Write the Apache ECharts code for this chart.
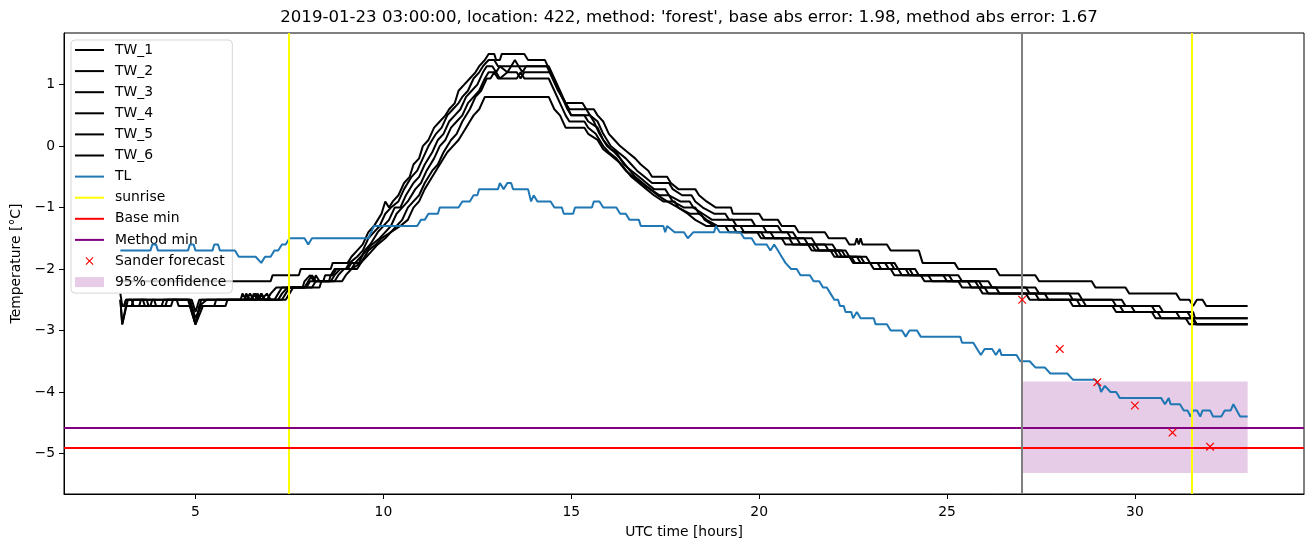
<!DOCTYPE html>
<html><head><meta charset="utf-8">
<script src="https://cdn.jsdelivr.net/npm/echarts@6/dist/echarts.min.js"></script>
<style>html,body{margin:0;padding:0;background:#fff}#c{width:1313px;height:547px}</style>
</head><body><div id="c"></div>
<script>
const titleText = "2019-01-23 03:00:00, location: 422, method: 'forest', base abs error: 1.98, method abs error: 1.67";
const xTicks = [5, 10, 15, 20, 25, 30];
const yTicks = [-5, -4, -3, -2, -1, 0, 1];

const tw1 = [[3.0,-2.2],[7.0,-2.2],[7.05,-2.1],[7.75,-2.1],[7.8,-2.0],[8.6,-2.0],[8.65,-1.9],[9.05,-1.9],[9.15,-1.8],[9.3,-1.7],[9.45,-1.6],[9.6,-1.4],[9.75,-1.3],[9.85,-1.2],[9.95,-1.1],[10.05,-0.9],[10.15,-1.0],[10.25,-0.9],[10.4,-0.8],[10.55,-0.6],[10.7,-0.5],[10.8,-0.3],[10.95,-0.2],[11.05,0.0],[11.2,0.1],[11.35,0.3],[11.5,0.4],[11.65,0.5],[11.75,0.6],[11.9,0.7],[12.0,0.9],[12.15,1.0],[12.3,1.1],[12.45,1.2],[12.55,1.3],[12.7,1.4],[12.8,1.5],[12.95,1.5],[13.0,1.4],[13.1,1.4],[13.15,1.5],[13.75,1.5],[13.85,1.4],[14.3,1.4],[14.45,1.2],[14.6,1.0],[14.75,0.8],[14.85,0.7],[15.3,0.7],[15.4,0.6],[15.6,0.6],[15.7,0.5],[15.85,0.4],[16.0,0.2],[16.15,0.1],[16.3,0.0],[16.5,-0.1],[16.7,-0.2],[16.85,-0.3],[17.05,-0.4],[17.15,-0.5],[17.55,-0.5],[17.65,-0.6],[17.85,-0.7],[18.3,-0.7],[18.4,-0.8],[18.6,-0.9],[18.85,-1.0],[19.25,-1.0],[19.3,-1.1],[20.0,-1.1],[20.1,-1.2],[20.5,-1.2],[20.6,-1.3],[20.95,-1.3],[21.05,-1.4],[21.75,-1.4],[21.85,-1.5],[22.3,-1.5],[22.4,-1.6],[22.55,-1.6],[22.6,-1.5],[22.65,-1.6],[22.7,-1.5],[22.75,-1.6],[23.4,-1.6],[23.5,-1.7],[24.25,-1.7],[24.35,-1.9],[25.2,-1.9],[25.3,-2.0],[26.3,-2.0],[26.4,-2.1],[27.35,-2.1],[27.45,-2.2],[28.85,-2.2],[28.95,-2.3],[29.75,-2.3],[29.85,-2.4],[31.1,-2.4],[31.2,-2.5],[31.45,-2.5],[31.55,-2.6],[31.65,-2.5],[31.8,-2.5],[31.9,-2.6],[33.0,-2.6]];

const tw2 = [[3.0,-2.4],[3.05,-2.6],[3.3,-2.6],[3.35,-2.5],[4.8,-2.5],[5.0,-2.9],[5.15,-2.5],[6.2,-2.5],[6.25,-2.4],[6.35,-2.5],[6.45,-2.4],[6.55,-2.5],[6.9,-2.5],[7.0,-2.4],[7.15,-2.3],[7.85,-2.3],[7.9,-2.2],[8.05,-2.1],[8.15,-2.2],[8.55,-2.2],[8.6,-2.1],[8.7,-2.0],[9.0,-2.0],[9.1,-1.9],[9.3,-1.8],[9.45,-1.7],[9.6,-1.5],[9.75,-1.4],[9.9,-1.3],[10.05,-1.1],[10.2,-1.0],[10.4,-0.9],[10.55,-0.7],[10.75,-0.5],[10.9,-0.4],[11.05,-0.2],[11.2,0.0],[11.4,0.2],[11.55,0.3],[11.7,0.5],[11.85,0.6],[12.0,0.7],[12.1,0.8],[12.25,0.9],[12.4,1.1],[12.55,1.2],[12.65,1.3],[12.8,1.4],[12.95,1.4],[13.05,1.3],[13.4,1.3],[13.5,1.4],[13.6,1.3],[14.35,1.3],[14.5,1.1],[14.65,0.9],[14.85,0.7],[14.95,0.6],[15.4,0.6],[15.5,0.5],[15.7,0.4],[15.85,0.2],[16.05,0.0],[16.25,-0.1],[16.45,-0.2],[16.6,-0.3],[16.75,-0.4],[16.95,-0.5],[17.15,-0.6],[17.6,-0.6],[17.7,-0.7],[17.95,-0.8],[18.2,-0.8],[18.3,-0.9],[18.5,-1.0],[18.8,-1.1],[19.1,-1.1],[19.2,-1.2],[19.8,-1.2],[19.9,-1.3],[20.5,-1.3],[20.6,-1.4],[20.9,-1.4],[21.0,-1.5],[21.2,-1.5],[21.3,-1.6],[21.75,-1.6],[21.85,-1.7],[22.0,-1.7],[22.1,-1.8],[22.45,-1.8],[22.55,-1.9],[23.35,-1.9],[23.45,-2.0],[23.9,-2.0],[24.0,-2.1],[25.05,-2.1],[25.15,-2.2],[25.85,-2.2],[25.95,-2.3],[27.1,-2.3],[27.2,-2.4],[28.25,-2.4],[28.35,-2.5],[29.4,-2.5],[29.5,-2.6],[30.45,-2.6],[30.55,-2.7],[31.55,-2.7],[31.6,-2.8],[33.0,-2.8]];

const tw3 = [[3.0,-2.5],[3.05,-2.9],[3.15,-2.6],[3.5,-2.6],[3.55,-2.5],[3.9,-2.5],[3.95,-2.6],[4.35,-2.6],[4.4,-2.5],[4.85,-2.5],[5.0,-2.9],[5.1,-2.6],[5.3,-2.5],[6.3,-2.5],[6.35,-2.4],[6.45,-2.5],[6.6,-2.4],[6.7,-2.5],[7.1,-2.5],[7.2,-2.4],[7.3,-2.3],[7.9,-2.3],[8.0,-2.2],[8.1,-2.1],[8.2,-2.2],[8.4,-2.2],[8.45,-2.1],[8.65,-2.1],[8.75,-2.0],[9.05,-2.0],[9.15,-1.9],[9.35,-1.9],[9.5,-1.7],[9.65,-1.6],[9.85,-1.4],[10.0,-1.3],[10.15,-1.2],[10.3,-1.0],[10.45,-1.0],[10.6,-0.8],[10.8,-0.6],[10.95,-0.5],[11.1,-0.3],[11.3,-0.1],[11.45,0.1],[11.6,0.2],[11.75,0.4],[11.9,0.5],[12.05,0.6],[12.2,0.8],[12.35,0.9],[12.5,1.0],[12.65,1.2],[12.75,1.3],[12.9,1.3],[13.0,1.2],[13.1,1.3],[13.3,1.2],[13.4,1.3],[13.6,1.3],[13.7,1.2],[13.8,1.3],[14.4,1.3],[14.55,1.1],[14.7,0.9],[14.85,0.7],[15.0,0.5],[15.35,0.5],[15.45,0.4],[15.7,0.3],[15.85,0.1],[16.05,-0.05],[16.2,-0.1],[16.4,-0.3],[16.6,-0.4],[16.8,-0.5],[17.0,-0.6],[17.2,-0.7],[17.5,-0.7],[17.6,-0.8],[17.9,-0.9],[18.15,-0.9],[18.25,-1.0],[18.5,-1.1],[18.75,-1.2],[19.3,-1.2],[19.4,-1.3],[20.1,-1.3],[20.2,-1.4],[20.75,-1.4],[20.85,-1.5],[21.4,-1.5],[21.5,-1.6],[21.95,-1.6],[22.05,-1.7],[22.3,-1.7],[22.4,-1.8],[22.7,-1.8],[22.8,-1.9],[23.6,-1.9],[23.7,-2.0],[24.15,-2.0],[24.25,-2.1],[25.3,-2.1],[25.4,-2.2],[26.1,-2.2],[26.2,-2.3],[27.35,-2.3],[27.45,-2.4],[28.5,-2.4],[28.6,-2.5],[29.65,-2.5],[29.75,-2.6],[30.65,-2.6],[30.75,-2.7],[31.4,-2.7],[31.5,-2.8],[33.0,-2.8]];

const tw4 = [[3.0,-2.6],[3.1,-2.6],[3.15,-2.5],[3.6,-2.5],[3.65,-2.6],[4.1,-2.6],[4.15,-2.5],[4.85,-2.5],[5.0,-2.8],[5.15,-2.6],[5.5,-2.6],[5.55,-2.5],[6.5,-2.5],[6.55,-2.4],[6.65,-2.5],[6.75,-2.4],[6.85,-2.5],[7.2,-2.5],[7.3,-2.4],[7.45,-2.3],[7.95,-2.3],[8.05,-2.2],[8.15,-2.2],[8.2,-2.1],[8.3,-2.2],[8.6,-2.2],[8.7,-2.1],[8.85,-2.0],[9.15,-2.0],[9.25,-1.9],[9.4,-1.8],[9.55,-1.7],[9.7,-1.6],[9.9,-1.5],[10.05,-1.4],[10.2,-1.3],[10.35,-1.1],[10.5,-1.0],[10.65,-0.9],[10.85,-0.7],[11.0,-0.6],[11.15,-0.4],[11.35,-0.2],[11.5,0.0],[11.65,0.1],[11.8,0.3],[11.95,0.4],[12.1,0.5],[12.25,0.7],[12.4,0.8],[12.55,0.9],[12.7,1.1],[12.8,1.2],[13.0,1.2],[13.1,1.1],[13.3,1.2],[13.55,1.2],[13.65,1.1],[13.75,1.2],[14.45,1.2],[14.6,1.0],[14.75,0.8],[14.9,0.6],[15.0,0.5],[15.5,0.5],[15.6,0.4],[15.75,0.2],[15.95,0.0],[16.15,-0.1],[16.3,-0.2],[16.5,-0.35],[16.7,-0.5],[16.9,-0.6],[17.1,-0.7],[17.35,-0.8],[17.6,-0.8],[17.7,-0.9],[18.0,-1.0],[18.3,-1.0],[18.4,-1.1],[18.6,-1.2],[18.9,-1.3],[19.5,-1.3],[19.6,-1.4],[20.3,-1.4],[20.4,-1.5],[21.0,-1.5],[21.1,-1.6],[21.5,-1.6],[21.6,-1.7],[22.1,-1.7],[22.2,-1.8],[22.6,-1.8],[22.7,-1.9],[22.95,-1.9],[23.05,-2.0],[23.7,-2.0],[23.8,-2.1],[24.3,-2.1],[24.4,-2.2],[25.55,-2.2],[25.65,-2.3],[25.85,-2.3],[25.95,-2.4],[27.1,-2.4],[27.2,-2.5],[28.25,-2.5],[28.35,-2.6],[29.4,-2.6],[29.5,-2.7],[30.45,-2.7],[30.55,-2.8],[31.55,-2.8],[31.6,-2.9],[33.0,-2.9]];

const tw5 = [[3.0,-2.5],[3.05,-2.9],[3.2,-2.5],[3.3,-2.5],[3.35,-2.6],[3.8,-2.6],[3.85,-2.5],[4.5,-2.5],[4.55,-2.6],[4.85,-2.6],[5.0,-2.9],[5.2,-2.6],[5.8,-2.6],[5.85,-2.5],[6.6,-2.5],[6.65,-2.4],[6.75,-2.5],[6.9,-2.4],[7.0,-2.5],[7.4,-2.5],[7.5,-2.4],[7.6,-2.3],[8.1,-2.3],[8.2,-2.2],[8.7,-2.2],[8.8,-2.1],[8.95,-2.0],[9.3,-2.0],[9.4,-1.9],[9.55,-1.8],[9.7,-1.7],[9.85,-1.6],[10.05,-1.5],[10.2,-1.4],[10.35,-1.3],[10.5,-1.2],[10.65,-1.0],[10.8,-0.9],[10.95,-0.8],[11.1,-0.6],[11.3,-0.4],[11.45,-0.3],[11.6,-0.1],[11.8,0.1],[11.95,0.2],[12.1,0.4],[12.3,0.6],[12.45,0.8],[12.6,0.9],[12.75,1.1],[12.85,1.1],[12.95,1.2],[13.05,1.1],[13.55,1.1],[13.65,1.2],[13.75,1.1],[14.4,1.1],[14.55,0.9],[14.7,0.7],[14.85,0.5],[14.95,0.4],[15.35,0.4],[15.45,0.3],[15.65,0.2],[15.85,0.0],[16.0,-0.1],[16.2,-0.2],[16.4,-0.35],[16.6,-0.5],[16.8,-0.6],[17.0,-0.7],[17.2,-0.8],[17.45,-0.9],[17.75,-0.9],[17.85,-1.0],[18.15,-1.1],[18.45,-1.1],[18.55,-1.2],[18.8,-1.3],[19.1,-1.3],[19.2,-1.4],[19.95,-1.4],[20.05,-1.5],[20.6,-1.5],[20.7,-1.6],[21.3,-1.6],[21.4,-1.7],[21.9,-1.7],[22.0,-1.8],[22.4,-1.8],[22.5,-1.9],[23.15,-1.9],[23.25,-2.0],[23.5,-2.0],[23.6,-2.1],[24.5,-2.1],[24.6,-2.2],[25.3,-2.2],[25.4,-2.3],[26.0,-2.3],[26.1,-2.4],[27.35,-2.4],[27.45,-2.5],[28.45,-2.5],[28.55,-2.6],[29.6,-2.6],[29.7,-2.7],[30.6,-2.7],[30.7,-2.8],[31.35,-2.8],[31.45,-2.9],[33.0,-2.9]];

const tw6 = [[3.0,-2.6],[3.1,-2.6],[3.15,-2.5],[3.7,-2.5],[3.75,-2.6],[4.2,-2.6],[4.25,-2.5],[4.9,-2.5],[5.0,-2.7],[5.1,-2.5],[6.7,-2.5],[6.75,-2.4],[6.85,-2.5],[7.3,-2.5],[7.4,-2.4],[7.5,-2.3],[8.3,-2.3],[8.35,-2.2],[8.9,-2.2],[9.0,-2.1],[9.15,-2.0],[9.4,-1.9],[9.6,-1.7],[9.8,-1.6],[9.95,-1.5],[10.2,-1.4],[10.45,-1.3],[10.65,-1.2],[10.8,-1.0],[10.95,-0.9],[11.1,-0.7],[11.3,-0.5],[11.5,-0.3],[11.7,-0.1],[11.85,0.0],[12.0,0.1],[12.2,0.3],[12.3,0.4],[12.4,0.5],[12.55,0.6],[12.7,0.8],[14.4,0.8],[14.55,0.6],[14.7,0.5],[14.85,0.3],[15.35,0.3],[15.45,0.2],[15.7,0.1],[15.85,-0.05],[16.05,-0.15],[16.25,-0.25],[16.45,-0.4],[16.65,-0.5],[16.85,-0.6],[17.1,-0.7],[17.3,-0.8],[17.55,-0.9],[17.85,-1.0],[18.1,-1.1],[18.3,-1.2],[18.6,-1.3],[19.3,-1.3],[19.4,-1.4],[20.05,-1.4],[20.15,-1.5],[20.8,-1.5],[20.9,-1.6],[21.4,-1.6],[21.5,-1.7],[22.2,-1.7],[22.3,-1.8],[22.85,-1.8],[22.95,-1.9],[23.5,-1.9],[23.6,-2.0],[24.0,-2.0],[24.1,-2.1],[24.9,-2.1],[25.0,-2.2],[25.75,-2.2],[25.85,-2.3],[26.3,-2.3],[26.4,-2.4],[27.6,-2.4],[27.7,-2.5],[28.6,-2.5],[28.7,-2.6],[29.9,-2.6],[30.0,-2.7],[31.1,-2.7],[31.2,-2.8],[31.55,-2.8],[31.65,-2.9],[33.0,-2.9]];

const tl = [[3.0,-1.7],[3.8,-1.7],[3.85,-1.6],[3.95,-1.6],[4.0,-1.7],[4.8,-1.7],[4.85,-1.6],[4.95,-1.6],[5.0,-1.7],[5.45,-1.7],[5.5,-1.6],[5.6,-1.6],[5.65,-1.7],[6.05,-1.7],[6.15,-1.8],[6.6,-1.8],[6.75,-1.9],[6.85,-1.8],[7.0,-1.8],[7.1,-1.7],[7.2,-1.7],[7.3,-1.6],[7.4,-1.6],[7.5,-1.5],[7.9,-1.5],[8.0,-1.6],[8.1,-1.5],[9.6,-1.5],[9.75,-1.3],[10.9,-1.3],[11.0,-1.2],[11.1,-1.2],[11.2,-1.1],[11.45,-1.1],[11.5,-1.0],[12.0,-1.0],[12.1,-0.9],[12.3,-0.9],[12.4,-0.8],[12.5,-0.8],[12.55,-0.7],[13.05,-0.7],[13.1,-0.6],[13.2,-0.7],[13.3,-0.6],[13.4,-0.6],[13.45,-0.7],[13.85,-0.7],[13.93,-0.9],[14.0,-0.8],[14.1,-0.9],[14.45,-0.9],[14.55,-1.0],[14.75,-1.0],[14.8,-1.1],[15.05,-1.1],[15.1,-1.0],[15.55,-1.0],[15.6,-0.9],[15.75,-0.9],[15.85,-1.0],[16.2,-1.0],[16.3,-1.1],[16.45,-1.1],[16.55,-1.2],[16.8,-1.2],[16.85,-1.3],[17.45,-1.3],[17.5,-1.4],[17.55,-1.3],[17.6,-1.3],[17.75,-1.4],[18.0,-1.4],[18.1,-1.5],[18.25,-1.4],[18.8,-1.4],[18.85,-1.3],[18.95,-1.4],[19.5,-1.4],[19.6,-1.5],[19.8,-1.5],[19.9,-1.6],[20.2,-1.6],[20.3,-1.7],[20.4,-1.6],[20.5,-1.7],[20.6,-1.8],[20.7,-1.9],[20.85,-2.0],[21.0,-2.0],[21.1,-2.1],[21.35,-2.1],[21.45,-2.2],[21.6,-2.2],[21.7,-2.3],[21.8,-2.3],[21.9,-2.4],[22.0,-2.5],[22.1,-2.5],[22.15,-2.6],[22.25,-2.6],[22.3,-2.7],[22.45,-2.7],[22.5,-2.8],[22.6,-2.7],[22.7,-2.8],[23.05,-2.8],[23.1,-2.9],[23.4,-2.9],[23.5,-3.0],[23.8,-3.0],[23.9,-3.1],[24.0,-3.0],[24.2,-3.0],[24.3,-3.1],[25.35,-3.1],[25.4,-3.2],[25.7,-3.2],[25.8,-3.3],[25.9,-3.4],[26.0,-3.3],[26.2,-3.3],[26.3,-3.4],[26.4,-3.3],[26.45,-3.4],[26.85,-3.4],[26.95,-3.5],[27.2,-3.5],[27.35,-3.6],[27.6,-3.6],[27.75,-3.7],[28.2,-3.7],[28.35,-3.8],[28.95,-3.8],[29.05,-3.9],[29.1,-4.0],[29.2,-3.9],[29.35,-4.0],[29.5,-4.0],[29.6,-4.1],[30.7,-4.1],[30.8,-4.2],[30.9,-4.1],[30.95,-4.2],[31.2,-4.2],[31.3,-4.3],[31.4,-4.3],[31.48,-4.4],[31.55,-4.3],[31.65,-4.3],[31.74,-4.4],[31.8,-4.3],[32.0,-4.3],[32.08,-4.4],[32.3,-4.4],[32.39,-4.3],[32.55,-4.3],[32.62,-4.2],[32.8,-4.4],[33.0,-4.4]];

const sunrise = [7.48, 31.5];
const nowTime = [27];
const baseMin = [-4.9];
const methodMin = [-4.58];
const sanderX = [27, 28, 29, 30, 31, 32];
const sanderY = [-2.5, -3.3, -3.84, -4.22, -4.66, -4.89];
const confX = [27, 33];
const confY = [-5.32, -3.83];

const FONT = 'DejaVu Sans';
const fmt = v => v < 0 ? '\u2212' + Math.abs(v) : String(v);
const xPath = 'path://M0,1L1,0L5,4L9,0L10,1L6,5L10,9L9,10L5,6L1,10L0,9L4,5Z';
const xLegendPath = 'path://M0,0M29,14M10.5,3.8L11.3,3L14.5,6.2L17.7,3L18.5,3.8L15.3,7L18.5,10.2L17.7,11L14.5,7.8L11.3,11L10.5,10.2L13.7,7Z';
const lineIcon = 'path://M0,0M29,14M0,6L29,6L29,8L0,8Z';
const rectIcon = 'path://M0,0M29,14M0,2L29,2L29,12L0,12Z';

const twAll = [tw1, tw2, tw3, tw4, tw5, tw6];
const series = [];
twAll.forEach((d, i) => series.push({
  name: 'TW_' + (i + 1), type: 'line', data: d, symbol: 'none', z: 3,
  lineStyle: {color: '#000', width: 2}, itemStyle: {color: '#000'}
}));
series.push({name: 'TL', type: 'line', data: tl, symbol: 'none', z: 4,
  lineStyle: {color: '#1f77b4', width: 2}, itemStyle: {color: '#1f77b4'}});
const ml = (color, list) => ({silent: true, symbol: ['none', 'none'], label: {show: false},
  emphasis: {disabled: true}, lineStyle: {color: color, width: 2, type: 'solid'}, data: list});
series.push({name: 'sunrise', type: 'line', data: [], symbol: 'none', z: 5,
  lineStyle: {color: '#ffff00', width: 2}, itemStyle: {color: '#ffff00'},
  markLine: ml('#ffff00', sunrise.map(v => ({xAxis: v})))});
series.push({name: 'Base min', type: 'line', data: [], symbol: 'none', z: 5,
  lineStyle: {color: '#ff0000', width: 2}, itemStyle: {color: '#ff0000'},
  markLine: ml('#ff0000', baseMin.map(v => ({yAxis: v})))});
series.push({name: 'Method min', type: 'line', data: [], symbol: 'none', z: 5,
  lineStyle: {color: '#800080', width: 2}, itemStyle: {color: '#800080'},
  markLine: ml('#800080', methodMin.map(v => ({yAxis: v})))});
series.push({name: 'now', type: 'line', data: [], symbol: 'none', z: 2,
  lineStyle: {color: '#808080', width: 2}, itemStyle: {color: '#808080'},
  markLine: ml('#808080', nowTime.map(v => ({xAxis: v})))});
series.push({name: 'Sander forecast', type: 'scatter', symbol: xPath, symbolSize: 8.5, z: 6,
  data: sanderX.map((x, i) => [x, sanderY[i]]), itemStyle: {color: '#ff0000', opacity: 1}});
series.push({name: '95% confidence', type: 'line', data: [], symbol: 'none', z: 1,
  color: 'rgba(128,0,128,0.2)',
  lineStyle: {color: 'rgba(128,0,128,0.2)'}, itemStyle: {color: 'rgba(128,0,128,0.2)'},
  markArea: {silent: true, itemStyle: {color: 'rgba(128,0,128,0.2)'}, label: {show: false},
    data: [[{coord: [confX[0], confY[0]]}, {coord: [confX[1], confY[1]]}]]}});

const lineNames = ['TW_1', 'TW_2', 'TW_3', 'TW_4', 'TW_5', 'TW_6', 'TL', 'sunrise', 'Base min', 'Method min'];
const chart = echarts.init(document.getElementById('c'), null, {renderer: 'canvas'});
chart.setOption({
  animation: false,
  backgroundColor: '#fff',
  textStyle: {fontFamily: FONT},
  title: {text: titleText, left: 684, top: 4, textAlign: 'center',
    textStyle: {fontFamily: FONT, fontSize: 16.6, fontWeight: 'normal', color: '#000'}},
  legend: {
    left: 71, top: 40, orient: 'vertical', padding: [3, 6, 4, 4],
    itemWidth: 29, itemHeight: 14, itemGap: 7.1,
    backgroundColor: 'rgba(255,255,255,0.8)', borderColor: 'rgba(204,204,204,0.8)',
    borderWidth: 1, borderRadius: 4,
    textStyle: {fontFamily: FONT, fontSize: 13.9, color: '#000', lineHeight: 14, padding: [0, 0, 0, 6]},
    data: lineNames.map(n => ({name: n, icon: lineIcon})).concat([
      {name: 'Sander forecast', icon: xLegendPath},
      {name: '95% confidence', icon: rectIcon}])
  },
  grid: {left: 64, top: 33, width: 1240, height: 461, show: true, borderColor: '#000', borderWidth: 1,
    backgroundColor: 'transparent'},
  xAxis: {
    type: 'value', min: 1.5, max: 34.5,
    name: 'UTC time [hours]', nameLocation: 'middle', nameGap: 31,
    nameTextStyle: {fontFamily: FONT, fontSize: 13.9, color: '#000'},
    axisLine: {show: true, onZero: false, lineStyle: {color: '#000', width: 1}},
    axisTick: {show: true, length: 5, customValues: xTicks, lineStyle: {color: '#000', width: 1}},
    axisLabel: {customValues: xTicks, margin: 11, fontFamily: FONT, fontSize: 13.9, color: '#000', formatter: fmt},
    splitLine: {show: false}
  },
  yAxis: {
    type: 'value', min: -5.66, max: 1.84,
    name: 'Temperature [°C]', nameLocation: 'middle', nameGap: 41, nameRotate: 90,
    nameTextStyle: {fontFamily: FONT, fontSize: 13.9, color: '#000'},
    axisLine: {show: true, onZero: false, lineStyle: {color: '#000', width: 1}},
    axisTick: {show: true, length: 5, customValues: yTicks, lineStyle: {color: '#000', width: 1}},
    axisLabel: {customValues: yTicks, margin: 9, fontFamily: FONT, fontSize: 13.9, color: '#000', formatter: fmt},
    splitLine: {show: false}
  },
  series: series
});
</script>
</body></html>
